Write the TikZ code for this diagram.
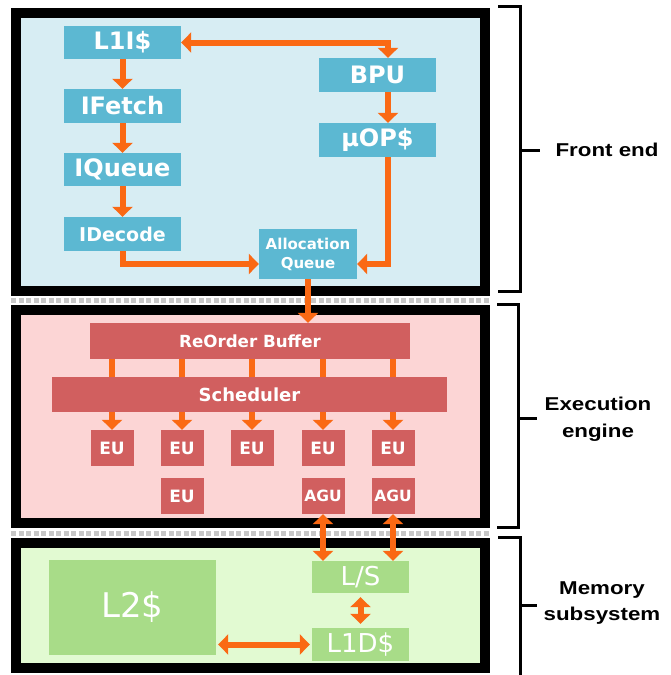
\documentclass[tikz,border=0pt]{standalone}
\usepackage{fontspec}
\setmainfont{DejaVu Sans}
\newfontfamily\lblfont[FakeStretch=1.2]{Liberation Sans}
\usetikzlibrary{arrows.meta}
\definecolor{orng}{RGB}{250,105,20}
\definecolor{feback}{RGB}{215,237,243}
\definecolor{febox}{RGB}{92,184,210}
\definecolor{exback}{RGB}{252,213,213}
\definecolor{exbox}{RGB}{209,95,95}
\definecolor{meback}{RGB}{226,250,210}
\definecolor{mebox}{RGB}{168,220,136}
\begin{document}
\begin{tikzpicture}[x=1pt,y=-1pt,
 panel/.style={draw=black, line width=10pt},
 blk/.style={inner sep=0pt, text=white, align=center},
 fe/.style={blk, fill=febox},
 ex/.style={blk, fill=exbox},
 me/.style={blk, fill=mebox},
 conn/.style={draw=orng, line width=6pt},
 arr/.style={conn, -{Triangle[length=10pt,width=20pt]}},
 barr/.style={conn, {Triangle[length=10pt,width=20pt]}-{Triangle[length=10pt,width=20pt]}},
 brk/.style={draw=black, line width=3pt},
 lbl/.style={align=center, font=\lblfont\bfseries\fontsize{18.6}{26.5}\selectfont},
 gap/.style={draw=black!22, line width=5pt, dash pattern=on 5pt off 2.5pt}
]
\useasboundingbox (0,0) rectangle (670,675);

% panels
\draw[panel, fill=feback] (16,13) rectangle (485,291);
\draw[panel, fill=exback] (16,310) rectangle (485,523);
\draw[panel, fill=meback] (16,543) rectangle (485,668);
\draw[gap] (11,300.5) -- (490,300.5);
\draw[gap] (11,533) -- (490,533);

% front end
\begin{scope}[every node/.append style={font=\bfseries\fontsize{24}{28}\selectfont}]
\node[fe, minimum width=117pt, minimum height=33pt] (L1I) at (122.5,42.5) {L1I\$};
\node[fe, minimum width=117pt, minimum height=34pt] (IFetch) at (122.5,106) {IFetch};
\node[fe, minimum width=117pt, minimum height=33pt] (IQueue) at (122.5,169.5) {IQueue};
\node[fe, minimum width=117pt, minimum height=34pt, font=\bfseries\fontsize{19}{23}\selectfont] (IDecode) at (122.5,234) {IDecode};
\node[fe, minimum width=117pt, minimum height=34pt] (BPU) at (377.5,75) {BPU};
\node[fe, minimum width=117pt, minimum height=34pt] (uOP) at (377.5,140) {µOP\$};
\node[fe, minimum width=98pt, minimum height=50pt, font=\bfseries\fontsize{15}{19}\selectfont] (AQ) at (308,254) {Allocation\\Queue};
\end{scope}

\draw[barr] (L1I.east) -| ([xshift=10.5pt]BPU.north);
\draw[arr] (L1I.south) -- (IFetch.north);
\draw[arr] (IFetch.south) -- (IQueue.north);
\draw[arr] (IQueue.south) -- (IDecode.north);
\draw[arr] ([xshift=10.5pt]BPU.south) -- ([xshift=10.5pt]uOP.north);
\draw[arr] (IDecode.south) |- ([yshift=-10pt]AQ.west);
\draw[arr] ([xshift=10.5pt]uOP.south) |- ([yshift=-10pt]AQ.east);

% execution engine
\node[ex, minimum width=320pt, minimum height=36pt, font=\bfseries\fontsize{16.7}{20}\selectfont] (ROB) at (250,341) {ReOrder Buffer};
\node[ex, minimum width=395pt, minimum height=35pt, font=\bfseries\fontsize{18}{22}\selectfont] (SCH) at (249.5,394.5) {Scheduler};
\begin{scope}[every node/.append style={ex, minimum width=43pt, minimum height=36pt, font=\bfseries\fontsize{17}{20}\selectfont}]
\node (EU1) at (112,448) {EU};
\node (EU2) at (182,448) {EU};
\node (EU3) at (252,448) {EU};
\node (EU4) at (323,448) {EU};
\node (EU5) at (393,448) {EU};
\node (EU6) at (182,496) {EU};
\node[font=\bfseries\fontsize{15.5}{19}\selectfont] (AGU1) at (323,496) {AGU};
\node[font=\bfseries\fontsize{15.5}{19}\selectfont] (AGU2) at (393,496) {AGU};
\end{scope}

\draw[arr] (AQ.south) -- (AQ.south |- ROB.north);
\foreach \e in {EU1,EU2,EU3,EU4,EU5}{
  \draw[conn] (\e.north |- ROB.south) -- (\e.north |- SCH.north);
  \draw[arr] (\e.north |- SCH.south) -- (\e.north);
}

% memory subsystem
\node[me, minimum width=167pt, minimum height=95pt, font=\fontsize{34}{38}\selectfont] (L2) at (132.5,607.5) {L2\$};
\node[me, minimum width=97pt, minimum height=32pt, font=\fontsize{26}{30}\selectfont] (LS) at (360.5,577) {L/S};
\node[me, minimum width=97pt, minimum height=33pt, font=\fontsize{26}{30}\selectfont] (L1D) at (360.5,644.5) {L1D\$};

\draw[barr] (AGU1.south) -- (AGU1.south |- LS.north);
\draw[barr] (AGU2.south) -- (AGU2.south |- LS.north);
\draw[barr, shorten <=4pt, shorten >=4pt] (LS.south) -- (L1D.north);
\draw[barr, shorten <=2pt, shorten >=2pt] (L2.east |- L1D.west) -- (L1D.west);

% brackets and labels
\draw[brk] (498,6) -- (520,6) -- (520,291) -- (498,291);
\draw[brk] (520,150) -- (540,150);
\node[lbl] (tfe) at (607,150) {Front end};
\draw[brk] (497,304) -- (518,304) -- (518,527) -- (497,527);
\draw[brk] (518,418) -- (537,418);
\node[lbl] (tex) at (598,419) {Execution\\engine};
\draw[brk] (498,537) -- (520,537) -- (520,676);
\draw[brk] (520,605) -- (537,605);
\node[lbl] (tme) at (602,603) {Memory\\subsystem};
\end{tikzpicture}
\end{document}
